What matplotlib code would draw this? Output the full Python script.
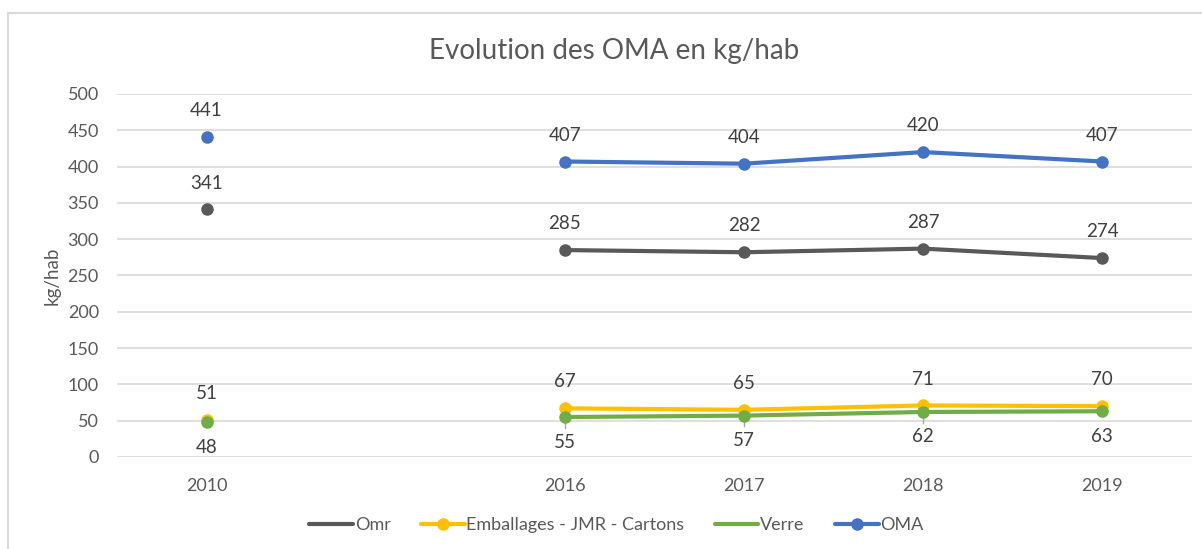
import numpy as np
import matplotlib.pyplot as plt
from matplotlib.lines import Line2D
from matplotlib.patches import Rectangle

# data (NaN = no value for the empty category between 2010 and 2016)
years = ['2010', '', '2016', '2017', '2018', '2019']
omr = [341, np.nan, 285, 282, 287, 274]
emballages = [51, np.nan, 67, 65, 71, 70]
verre = [48, np.nan, 55, 57, 62, 63]
oma = [441, np.nan, 407, 404, 420, 407]

c_omr = '#595959'
c_emb = '#FFC000'
c_ver = '#70AD47'
c_oma = '#4472C4'
txt = '#404040'
plt.rcParams['font.family'] = ['Lato', 'DejaVu Sans']

fig = plt.figure(figsize=(12.02, 5.49), dpi=100)
ax = fig.add_axes([0.0973, 0.1676, 0.8943, 0.6612])

# chart border
fig.patches.append(Rectangle((8/1202, -0.1), 1.2, 1 - 13/549 + 0.1, transform=fig.transFigure,
                             fill=False, edgecolor='#D9D9D9', lw=1.5, zorder=0))

x = np.arange(len(years))
series = [(omr, c_omr, 'above'), (emballages, c_emb, 'above'),
          (verre, c_ver, 'below'), (oma, c_oma, 'above')]

# leader lines for the Verre labels
for i in [2, 3, 4]:
    ax.plot([x[i], x[i]], [verre[i], verre[i] - 15], color='#A6A6A6', lw=1, zorder=2)

for vals, col, pos in series:
    ax.plot(x, vals, color=col, lw=3, marker='o', markersize=8, zorder=3,
            solid_capstyle='round')
    for xi, v in zip(x, vals):
        if np.isnan(v):
            continue
        dy = 19 if pos == 'above' else -18
        ax.annotate('%d' % v, (xi, v), xytext=(0, dy), textcoords='offset points',
                    ha='center', va='center', fontsize=13.5, color=txt)

ax.set_xlim(-0.5, len(years) - 0.5)
ax.set_ylim(0, 500)
ax.set_yticks(np.arange(0, 501, 50))
ax.set_xticks(x)
ax.set_xticklabels(years)
ax.grid(axis='y', color='#D9D9D9', lw=1.2)
ax.set_axisbelow(True)
for s in ax.spines.values():
    s.set_visible(False)
ax.tick_params(length=0, labelsize=13, labelcolor='#595959')
ax.tick_params(axis='x', pad=15)
ax.tick_params(axis='y', pad=13)
ax.set_ylabel('kg/hab', fontsize=13.5, color='#595959', labelpad=5)

fig.text(0.511, 0.908, 'Evolution des OMA en kg/hab', ha='center', va='center',
         fontsize=20, color='#595959')

handles = [Line2D([], [], color=c_omr, lw=3, solid_capstyle='round'),
           Line2D([], [], color=c_emb, lw=3, marker='o', markersize=8, solid_capstyle='round'),
           Line2D([], [], color=c_ver, lw=3, solid_capstyle='round'),
           Line2D([], [], color=c_oma, lw=3, marker='o', markersize=8, solid_capstyle='round')]
labels = ['Omr', 'Emballages - JMR - Cartons', 'Verre', 'OMA']
fig.legend(handles, labels, loc='center', bbox_to_anchor=(0.513, 0.043), ncol=4,
           frameon=False, fontsize=13, handlelength=2.4, handletextpad=0.1,
           columnspacing=1.7, labelcolor='#595959')

plt.savefig('out.png', dpi=100)
